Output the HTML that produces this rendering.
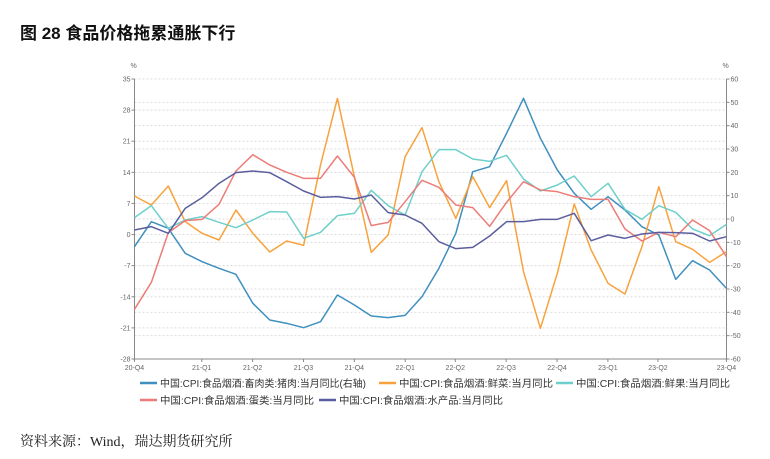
<!DOCTYPE html>
<html><head><meta charset="utf-8"><style>
body{margin:0;width:770px;height:459px;background:#fff;overflow:hidden;font-family:"Liberation Sans","Noto Sans CJK SC",sans-serif;}
.t{position:absolute;left:20px;top:19px;font-size:17px;font-weight:bold;color:#111;font-family:"Liberation Sans","Noto Sans CJK SC",sans-serif;}
.s{position:absolute;left:20px;top:431px;font-size:14px;color:#222;font-family:"Liberation Serif","Noto Serif CJK SC",serif;}
</style></head><body>
<div class="t">图 28 食品价格拖累通胀下行</div>
<svg width="770" height="459" style="position:absolute;left:0;top:0" font-family="Liberation Sans, Noto Sans CJK SC, sans-serif">
<g id="grid" stroke="#ddd" stroke-dasharray="2,2" stroke-width="1"></g>
<g id="ax" font-size="7" fill="#666"></g>
<g transform="translate(100,60) scale(0.41026,0.33333)" fill="none" stroke-width="1.5" stroke-linejoin="round">
<polyline id="p0" stroke="#3f8fbf" vector-effect="non-scaling-stroke"/>
<polyline id="p1" stroke="#f7a23c" vector-effect="non-scaling-stroke"/>
<polyline id="p2" stroke="#6fcfcb" vector-effect="non-scaling-stroke"/>
<polyline id="p3" stroke="#ec7c78" vector-effect="non-scaling-stroke"/>
<polyline id="p4" stroke="#5b5e9e" vector-effect="non-scaling-stroke"/>
</g>
<g font-size="10" fill="#333">
<line x1="140" y1="383" x2="157" y2="383" stroke="#3f8fbf" stroke-width="2.5"/><text x="160" y="387" textLength="206" lengthAdjust="spacingAndGlyphs">中国:CPI:食品烟酒:畜肉类:猪肉:当月同比(右轴)</text>
<line x1="379" y1="383" x2="396" y2="383" stroke="#f7a23c" stroke-width="2.5"/><text x="399" y="387" textLength="154" lengthAdjust="spacingAndGlyphs">中国:CPI:食品烟酒:鲜菜:当月同比</text>
<line x1="556" y1="383" x2="573" y2="383" stroke="#6fcfcb" stroke-width="2.5"/><text x="576" y="387" textLength="154" lengthAdjust="spacingAndGlyphs">中国:CPI:食品烟酒:鲜果:当月同比</text>
<line x1="140" y1="400" x2="157" y2="400" stroke="#ec7c78" stroke-width="2.5"/><text x="160" y="404" textLength="154" lengthAdjust="spacingAndGlyphs">中国:CPI:食品烟酒:蛋类:当月同比</text>
<line x1="319" y1="400" x2="336" y2="400" stroke="#5b5e9e" stroke-width="2.5"/><text x="339" y="404" textLength="164" lengthAdjust="spacingAndGlyphs">中国:CPI:食品烟酒:水产品:当月同比</text>
</g>
</svg>
<div class="s">资料来源：Wind，瑞达期货研究所</div>
<script>
var D=[
[560,485,505,580,605,625,643,730,780,790,803,785,705,735,768,773,766,710,625,520,335,320,220,115,235,330,400,448,410,450,500,525,658,602,630,685],
[408,435,378,485,520,540,450,520,576,543,556,315,115,350,577,525,290,203,365,475,350,443,362,635,805,640,432,570,670,702,560,380,545,568,607,575],
[473,437,505,480,470,487,503,480,455,456,535,517,467,460,391,437,465,335,269,269,297,304,286,357,393,375,348,410,370,448,478,437,457,507,527,493],
[748,667,518,482,478,433,333,284,315,337,355,355,288,352,497,487,425,361,382,435,443,499,427,365,390,395,410,418,418,507,543,517,530,480,512,590],
[510,500,520,445,413,370,338,333,338,365,393,412,410,417,405,458,465,490,545,566,562,528,485,485,478,478,460,542,525,535,522,517,518,520,543,530]];
for(var k=0;k<5;k++){var p=[];for(var i=0;i<36;i++)p.push((84+i*1443/35).toFixed(1)+","+D[k][i]);document.getElementById("p"+k).setAttribute("points",p.join(" "));}
var NS="http://www.w3.org/2000/svg",g=document.getElementById("grid"),a=document.getElementById("ax");
function el(par,t,at,txt){var e=document.createElementNS(NS,t);for(var q in at)e.setAttribute(q,at[q]);if(txt!=null)e.textContent=txt;par.appendChild(e);}
var L=134.5,R=726.5,T=79,B=359;
for(var v=35;v>=-28;v-=7){var y=T+(35-v)*280/63;el(g,"line",{x1:L,x2:R,y1:y,y2:y});el(a,"text",{x:L-4,y:y+2.5,"text-anchor":"end"},v);el(a,"line",{x1:L-3,x2:L,y1:y,y2:y,stroke:"#888"});}
for(var v=60;v>=-60;v-=10){var y=T+(60-v)*280/120;el(g,"line",{x1:L,x2:R,y1:y,y2:y});el(a,"text",{x:R+4,y:y+2.5},v);el(a,"line",{x1:R,x2:R+3,y1:y,y2:y,stroke:"#888"});}
el(a,"line",{x1:L,x2:L,y1:T,y2:B,stroke:"#888"});el(a,"line",{x1:R,x2:R,y1:T,y2:B,stroke:"#888"});el(a,"line",{x1:L,x2:R,y1:B,y2:B,stroke:"#888"});
el(a,"text",{x:L-4,y:68},"%");el(a,"text",{x:R-4,y:68},"%");
var lx=[84,248,372,496,620,744,866,990,1114,1238,1360,1527],ln=["20-Q4","21-Q1","21-Q2","21-Q3","21-Q4","22-Q1","22-Q2","22-Q3","22-Q4","23-Q1","23-Q2","23-Q4"];
for(var i=0;i<12;i++){var x=100+lx[i]/2.4375;el(a,"text",{x:x,y:370,"text-anchor":"middle"},ln[i]);el(a,"line",{x1:x,x2:x,y1:B,y2:B+3,stroke:"#888"});}
</script>
</body></html>
